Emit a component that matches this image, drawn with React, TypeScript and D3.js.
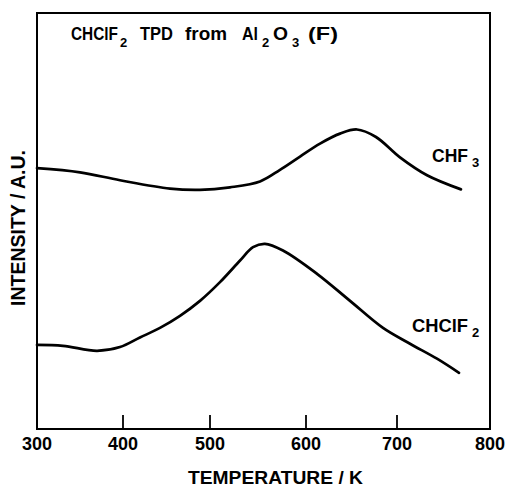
import React from "react";
import * as d3 from "d3";

const xTicks = [300, 400, 500, 600, 700, 800];
const xTickPx = [37, 123, 210, 306, 397, 490];

const chf3T = [300, 350, 396.5, 454, 488.5, 520.8, 552.1, 572.9, 593.8, 615.4, 637.4, 656.0, 676.9, 703.2, 732.3, 768.8];
const chf3I = [62.7, 61.7, 59.8, 57.8, 57.5, 58.1, 59.5, 62.3, 65.5, 68.6, 71.0, 72.0, 70.2, 65.3, 61.0, 57.6];

const chclf2T = [300, 330.2, 369.8, 396.5, 419.5, 442.5, 465.5, 488.5, 510.4, 531.3, 544.8, 557.3, 576, 612.1, 648.4, 684.6, 714, 743, 766.7];
const chclf2I = [20.2, 20.0, 18.8, 19.7, 22.0, 24.3, 27.2, 30.8, 35.3, 40.5, 43.7, 44.5, 42.9, 37.3, 30.8, 24.3, 20.5, 16.9, 13.5];

const FONT = "'Liberation Sans', Arial, Helvetica, sans-serif";

export default function App() {
  const W = 506, H = 487;
  const top = 13, bottom = 429, left = 37, right = 490;
  const x = d3.scaleLinear().domain(xTicks).range(xTickPx);
  const y = d3.scaleLinear().domain([0, 100]).range([bottom, top]);
  const line = d3
    .line<[number, number]>()
    .x((d) => x(d[0]))
    .y((d) => y(d[1]))
    .curve(d3.curveCatmullRom.alpha(0.5));
  const s1 = chf3T.map((t, i) => [t, chf3I[i]] as [number, number]);
  const s2 = chclf2T.map((t, i) => [t, chclf2I[i]] as [number, number]);

  const T = (props: any) => <text lengthAdjust="spacingAndGlyphs" {...props} />;

  return (
    <svg
      width={W}
      height={H}
      style={{ position: "absolute", left: 0, top: 0, background: "#fff" }}
      fontFamily={FONT}
      fontWeight="bold"
    >
      <rect x={0} y={0} width={W} height={H} fill="#fff" />
      <rect x={left} y={top} width={right - left} height={bottom - top} fill="none" stroke="#000" strokeWidth={2} />
      {xTicks.slice(1, -1).map((t) => (
        <line key={t} x1={x(t)} x2={x(t)} y1={bottom} y2={bottom - 14} stroke="#000" strokeWidth={1.8} />
      ))}
      {xTicks.map((t) => (
        <text key={t} x={x(t)} y={450} textAnchor="middle" fontSize={18}>
          {t}
        </text>
      ))}
      <T x={188} y={484} fontSize={18.5} textLength={175}>
        TEMPERATURE / K
      </T>
      <T transform="translate(25,306) rotate(-90)" x={0} y={0} fontSize={19.5} textLength={156}>
        INTENSITY / A.U.
      </T>
      <path d={line(s1) || ""} fill="none" stroke="#000" strokeWidth={2.7} strokeLinecap="round" strokeLinejoin="round" />
      <path d={line(s2) || ""} fill="none" stroke="#000" strokeWidth={2.7} strokeLinecap="round" strokeLinejoin="round" />
      <g fontSize={18.5}>
        <T x={71} y={40} textLength={47}>CHClF</T>
        <text x={120} y={47} fontSize={13}>2</text>
        <T x={140} y={40} textLength={33}>TPD</T>
        <T x={185} y={40} textLength={42}>from</T>
        <T x={242} y={40} textLength={16}>Al</T>
        <text x={262} y={47} fontSize={13}>2</text>
        <T x={273} y={40} textLength={15}>O</T>
        <text x={292} y={47} fontSize={13}>3</text>
        <T x={308} y={40} textLength={30}>(F)</T>
      </g>
      <g fontSize={18}>
        <T x={432} y={162} textLength={36}>CHF</T>
        <text x={472} y={167} fontSize={13}>3</text>
        <T x={412} y={332} textLength={56}>CHClF</T>
        <text x={472} y={337} fontSize={13}>2</text>
      </g>
    </svg>
  );
}
